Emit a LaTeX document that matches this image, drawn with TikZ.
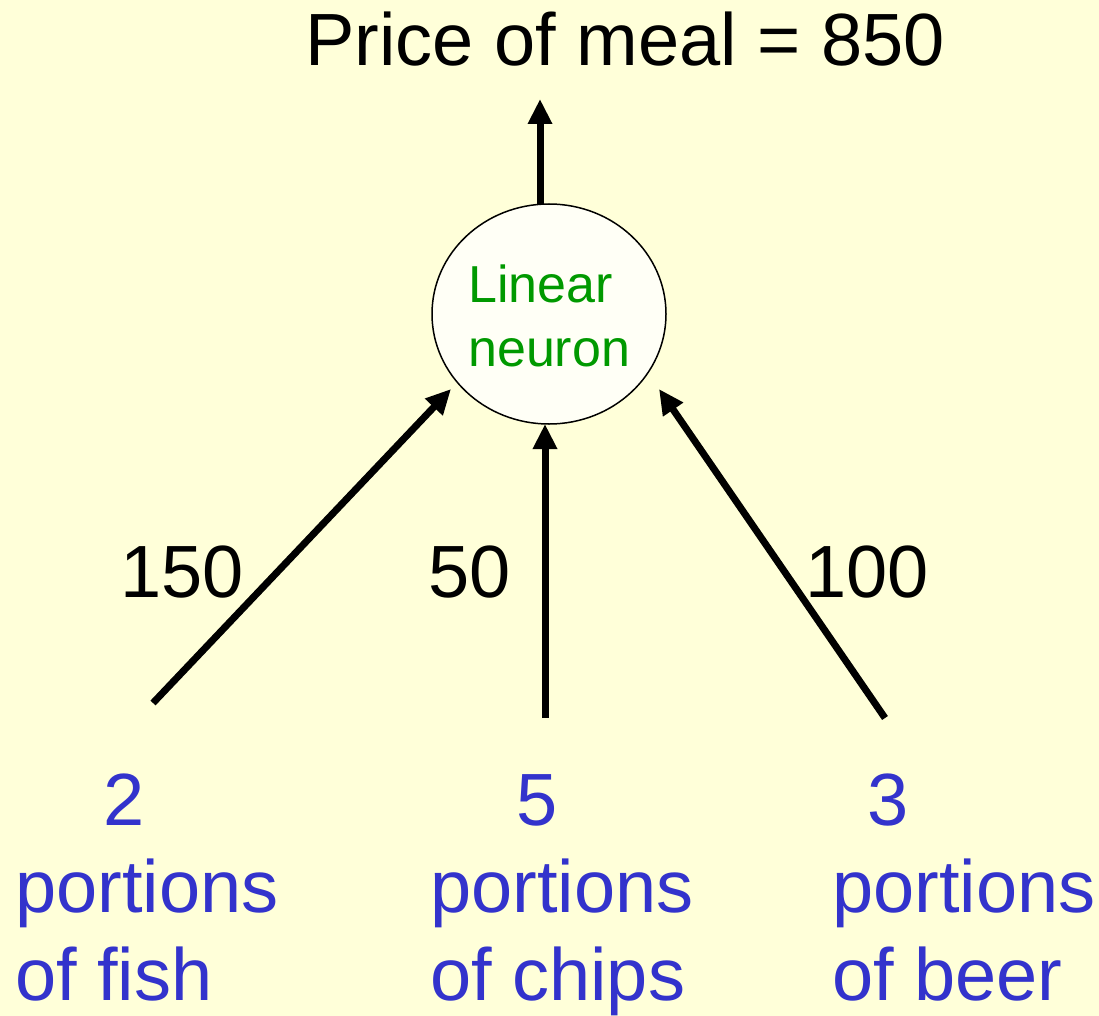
\documentclass[tikz,border=0pt]{standalone}
\usepackage{fontspec}
\setmainfont{Liberation Sans}
\usetikzlibrary{arrows.meta,shapes.geometric}
\definecolor{bgyellow}{RGB}{255,255,217}
\definecolor{cellfill}{RGB}{255,255,246}
\definecolor{inblue}{RGB}{51,51,204}
\definecolor{neurongreen}{RGB}{0,153,0}
\tikzset{
  big/.style={font=\fontsize{74}{87}\selectfont, inner sep=0pt, anchor=base west},
  inlabel/.style={big, text=inblue},
  weight/.style={big, text=black},
  conn/.style={line width=7pt, -{Triangle[length=25pt,width=23pt]}},
}
\begin{document}
\begin{tikzpicture}[x=1pt,y=-1pt]
\fill[bgyellow] (0,0) rectangle (1099,1016);
\useasboundingbox (0,0) rectangle (1099,1016);

% neuron
\node[ellipse, draw=black, line width=1.5pt, fill=cellfill, minimum width=234pt, minimum height=220pt, inner sep=0pt] (neuron) at (549,314) {};
\node[font=\fontsize{52}{64}\selectfont, text=neurongreen, inner sep=0pt, anchor=base west] (lin1) at (468,302) {Linear};
\node[font=\fontsize{52}{64}\selectfont, text=neurongreen, inner sep=0pt, anchor=base west] (lin2) at (468,366) {neuron};

% output
\node[big, text=black] (out) at (305,66) {Price of meal = 850};
\coordinate (otail) at (540,205);
\coordinate (ohead) at (540,99);
\draw[conn] (otail) -- (ohead);

% inputs
\coordinate (t1) at (153,703);
\coordinate (h1) at (451,389);
\coordinate (t2) at (545,718);
\coordinate (h2) at (545,424);
\coordinate (t3) at (885,718);
\coordinate (h3) at (659,389);
\draw[conn] (t1) -- (h1);
\draw[conn] (t2) -- (h2);
\draw[conn] (t3) -- (h3);

% weights
\node[weight] (w1) at (120,597) {150};
\node[weight] (w2) at (428,597) {50};
\node[weight] (w3) at (805,597) {100};

% input labels
\node[inlabel, anchor=base] (n1) at (124,825) {2};
\node[inlabel] (p1) at (15,912) {portions};
\node[inlabel] (f1) at (15,1000) {of fish};

\node[inlabel, anchor=base] (n2) at (537,825) {5};
\node[inlabel] (p2) at (430,912) {portions};
\node[inlabel] (f2) at (430,1000) {of chips};

\node[inlabel, anchor=base] (n3) at (888,825) {3};
\node[inlabel] (p3) at (832,912) {portions};
\node[inlabel] (f3) at (832,1000) {of beer};
\end{tikzpicture}
\end{document}
